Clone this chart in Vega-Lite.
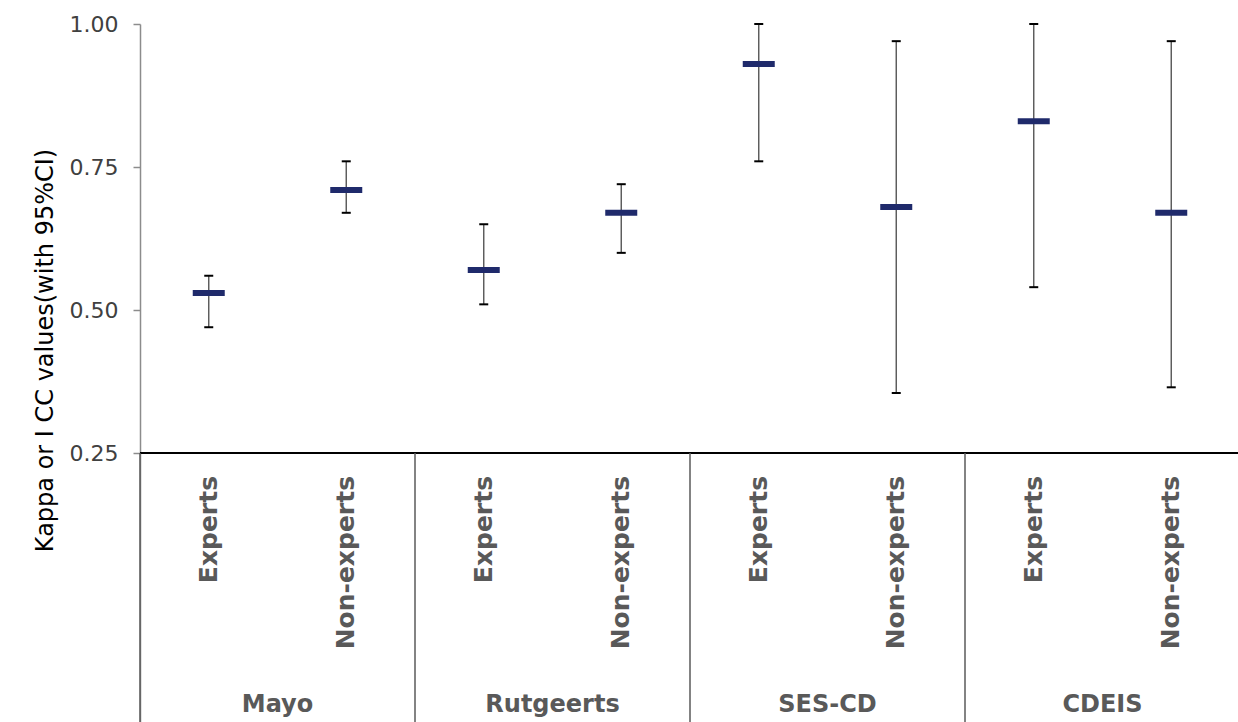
{
  "$schema": "https://vega.github.io/schema/vega-lite/v6.json",
  "width": 1100,
  "height": 698,
  "autosize": "none",
  "padding": {"left": 140, "top": 24, "right": 0, "bottom": 0},
  "background": "white",
  "config": {"view": {"stroke": null}, "font": "DejaVu Sans"},
  "data": {"values": [
    {"group": "Mayo", "sub": "Experts", "key": "Mayo Experts", "est": 0.53, "lo": 0.47, "hi": 0.56},
    {"group": "Mayo", "sub": "Non-experts", "key": "Mayo Non-experts", "est": 0.71, "lo": 0.67, "hi": 0.76},
    {"group": "Rutgeerts", "sub": "Experts", "key": "Rutgeerts Experts", "est": 0.57, "lo": 0.51, "hi": 0.65},
    {"group": "Rutgeerts", "sub": "Non-experts", "key": "Rutgeerts Non-experts", "est": 0.67, "lo": 0.60, "hi": 0.72},
    {"group": "SES-CD", "sub": "Experts", "key": "SES-CD Experts", "est": 0.93, "lo": 0.76, "hi": 1.0},
    {"group": "SES-CD", "sub": "Non-experts", "key": "SES-CD Non-experts", "est": 0.68, "lo": 0.355, "hi": 0.97},
    {"group": "CDEIS", "sub": "Experts", "key": "CDEIS Experts", "est": 0.83, "lo": 0.54, "hi": 1.0},
    {"group": "CDEIS", "sub": "Non-experts", "key": "CDEIS Non-experts", "est": 0.67, "lo": 0.365, "hi": 0.97}
  ]},
  "encoding": {
    "x": {"field": "key", "type": "nominal", "sort": null,
      "scale": {"type": "band", "paddingInner": 0, "paddingOuter": 0,
        "domain": ["Mayo Experts", "Mayo Non-experts", "Rutgeerts Experts", "Rutgeerts Non-experts", "SES-CD Experts", "SES-CD Non-experts", "CDEIS Experts", "CDEIS Non-experts"]},
      "axis": null}
  },
  "layer": [
    {
      "mark": {"type": "rule", "color": "#000000", "strokeWidth": 1.5},
      "encoding": {"x": null, "y": {"datum": 0.25, "type": "quantitative",
        "scale": {"domain": [-0.22, 1.0], "nice": false, "zero": false},
        "axis": {"values": [0.25, 0.5, 0.75, 1.0], "format": ".2f", "grid": false,
          "domainColor": "#8c8c8c", "domainWidth": 1.5, "tickColor": "#8c8c8c", "tickSize": 7, "tickWidth": 1.5,
          "labelFontSize": 22, "labelColor": "#404040", "labelPadding": 15, "labelFont": "DejaVu Sans",
          "title": "Kappa or I CC values(with 95%CI)", "titleFontSize": 24, "titleFontWeight": "normal",
          "titleColor": "#000000", "titlePadding": 12, "titleFont": "DejaVu Sans", "titleY": 326}}}
    },
    {
      "transform": [{"filter": "datum.sub === 'Experts'"}],
      "mark": {"type": "rule", "color": "#5a5a5a", "strokeWidth": 1.5},
      "encoding": {
        "x": {"field": "key", "type": "nominal", "bandPosition": 0},
        "y": {"datum": 0.25, "type": "quantitative"},
        "y2": {"datum": -0.22}
      }
    },
    {
      "transform": [{"filter": "datum.sub === 'Experts'"}],
      "mark": {"type": "text", "fontSize": 24, "fontWeight": "bold", "color": "#595959", "baseline": "middle", "align": "center", "font": "DejaVu Sans"},
      "encoding": {
        "x": {"field": "key", "type": "nominal", "bandPosition": 1},
        "y": {"datum": -0.19, "type": "quantitative"},
        "text": {"field": "group"}
      }
    },
    {
      "mark": {"type": "text", "fontSize": 25, "fontWeight": "bold", "color": "#595959", "angle": 270, "align": "right", "baseline": "middle", "font": "DejaVu Sans"},
      "encoding": {
        "y": {"datum": 0.21, "type": "quantitative"},
        "text": {"field": "sub"}
      }
    },
    {
      "mark": {"type": "rule", "color": "#555555", "strokeWidth": 1.4},
      "encoding": {
        "y": {"field": "lo", "type": "quantitative"},
        "y2": {"field": "hi"}
      }
    },
    {
      "mark": {"type": "tick", "color": "#000000", "opacity": 1, "thickness": 2, "size": 9, "orient": "horizontal"},
      "encoding": {"y": {"field": "lo", "type": "quantitative"}}
    },
    {
      "mark": {"type": "tick", "color": "#000000", "opacity": 1, "thickness": 2, "size": 9, "orient": "horizontal"},
      "encoding": {"y": {"field": "hi", "type": "quantitative"}}
    },
    {
      "mark": {"type": "tick", "color": "#1f2a6b", "opacity": 1, "thickness": 6, "size": 32, "orient": "horizontal"},
      "encoding": {"y": {"field": "est", "type": "quantitative"}}
    }
  ]
}
